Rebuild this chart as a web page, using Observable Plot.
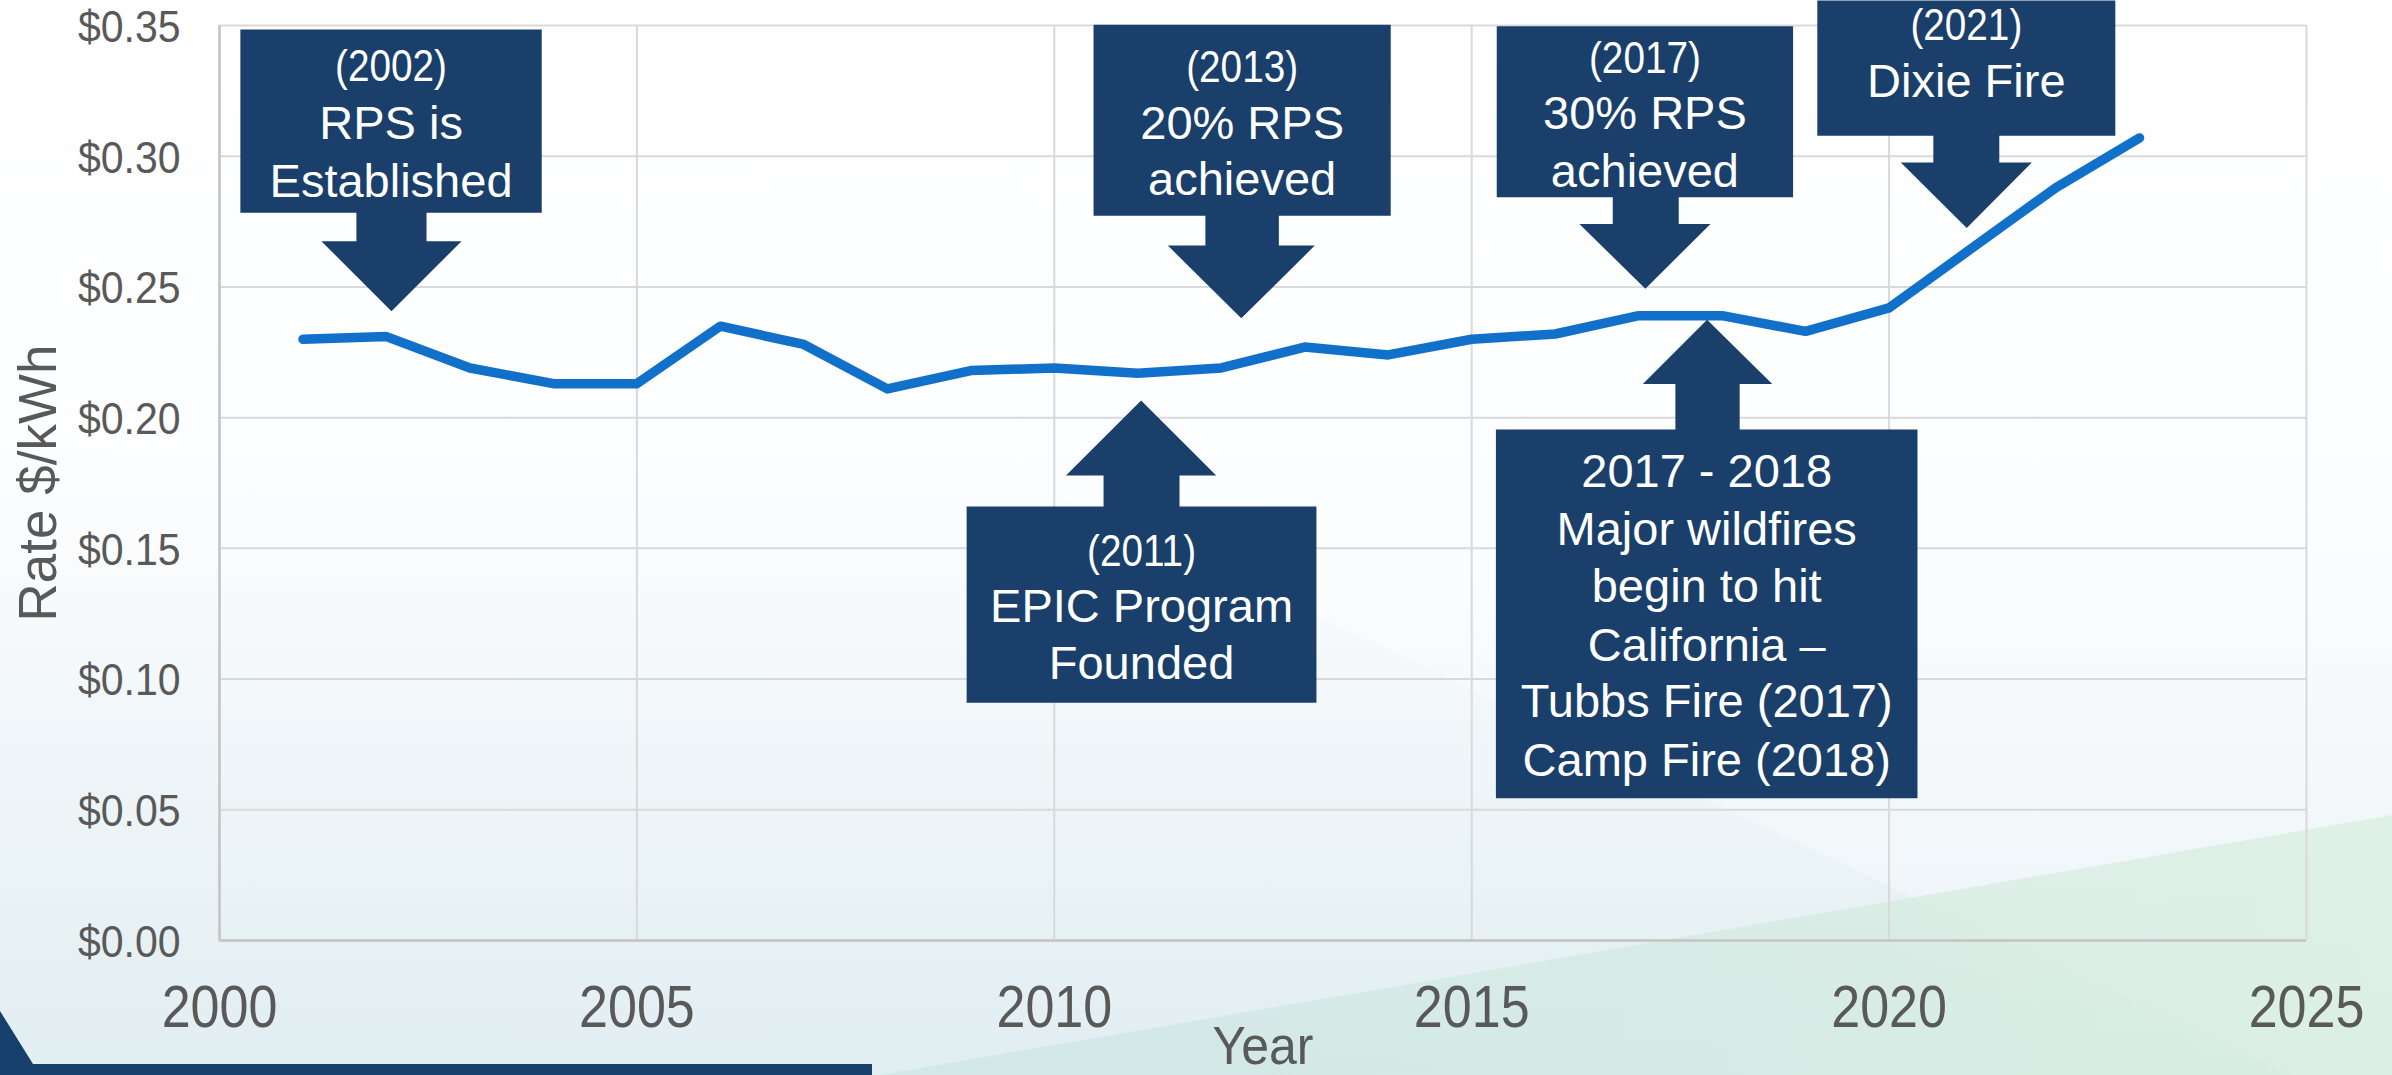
<!DOCTYPE html>
<html><head><meta charset="utf-8">
<script src="https://cdn.jsdelivr.net/npm/d3@7"></script>
<script src="https://cdn.jsdelivr.net/npm/@observablehq/plot@0.6"></script>
<style>
html,body{margin:0;padding:0;background:#fff;}
#wrap{position:relative;width:2392px;height:1075px;overflow:hidden;}
#bg{position:absolute;left:0;top:0;}
#chart{position:absolute;left:0;top:0;}
</style></head><body>
<div id="wrap">
<svg id="bg" width="2392" height="1075">
  <defs>
    <linearGradient id="g0" x1="0" y1="0" x2="0" y2="1">
      <stop offset="0" stop-color="#ffffff"/>
      <stop offset="0.5" stop-color="#fcfdfe"/>
      <stop offset="1" stop-color="#e9f2f6"/>
    </linearGradient>
    <linearGradient id="g1" x1="0" y1="0" x2="0" y2="1">
      <stop offset="0" stop-color="#dcebef" stop-opacity="0"/>
      <stop offset="1" stop-color="#d2e7ea" stop-opacity="0.35"/>
    </linearGradient>
    <linearGradient id="g2" x1="0" y1="0" x2="1" y2="0">
      <stop offset="0" stop-color="#c6e2df" stop-opacity="0.55"/>
      <stop offset="1" stop-color="#d2edd8" stop-opacity="0.6"/>
    </linearGradient>
  </defs>
  <rect width="2392" height="1075" fill="url(#g0)"/>
  <polygon points="0,450 1050,490 2290,1075 0,1075" fill="url(#g1)"/>
  <polygon points="880,1075 2392,815 2392,1075" fill="url(#g2)"/>
  <polygon points="0,1011 33,1064 872,1064 872,1075 0,1075" fill="#173f6c"/>
</svg>
<div id="chart"></div>
</div>
<script>
// ---- data ----
const years = [2001,2002,2003,2004,2005,2006,2007,2008,2009,2010,2011,2012,2013,2014,2015,2016,2017,2018,2019,2020,2021,2022,2023];
const rates = [0.230,0.231,0.219,0.213,0.213,0.235,0.228,0.211,0.218,0.219,0.217,0.219,0.227,0.224,0.230,0.232,0.239,0.239,0.233,0.242,0.265,0.288,0.307];
const xTicks = [2000,2005,2010,2015,2020,2025];
const yTicks = [0,0.05,0.10,0.15,0.20,0.25,0.30,0.35];

// annotation callouts (box + block arrow), in data units (year, $/kWh)
const calloutHeads = ["(2002)","(2013)","(2017)","(2021)","(2011)",null];
const calloutLines = [
  ["RPS is","Established"],
  ["20% RPS","achieved"],
  ["30% RPS","achieved"],
  ["Dixie Fire"],
  ["EPIC Program","Founded"],
  ["2017 - 2018","Major wildfires","begin to hit","California \u2013","Tubbs Fire (2017)","Camp Fire (2018)"]
];
const boxX = [[2000.25,2003.86],[2010.47,2014.03],[2015.30,2018.85],[2019.14,2022.71],[2008.95,2013.14],[2015.29,2020.34]];
const boxFarNear = [[0.3485,0.2784],[0.3503,0.2772],[0.3497,0.2843],[0.3596,0.3078],[0.0909,0.1660],[0.0544,0.1955]];
const shaftX = [[2001.64,2002.48],[2011.81,2012.69],[2016.69,2017.48],[2020.53,2021.32],[2010.59,2011.50],[2017.44,2018.21]];
const headX = [[2001.22,2002.90],[2011.36,2013.12],[2016.29,2017.86],[2020.14,2021.71],[2010.14,2011.94],[2017.05,2018.60]];
const headBase = [0.2675,0.2658,0.2741,0.2976,0.1779,0.2129];
const tipPoint = [[2002.06,0.2407],[2012.24,0.2380],[2017.08,0.2493],[2020.93,0.2725],[2011.04,0.2066],[2017.82,0.2374]];
const headBaseline = [0.3286,0.3283,0.3318,0.3443,0.1434,null];
const lineBaselines = [
  [0.3067,0.2843],
  [0.3067,0.2850],
  [0.3105,0.2884],
  [0.3226],
  [0.1218,0.1001],
  [0.1734,0.1511,0.1294,0.1071,0.0854,0.0631]
];

// ---- build ----
const data = years.map((year, i) => ({year, rate: rates[i]}));
const navy = "#1a3f6b";
const shapes = [];
const headLabels = [];
const bodyLabels = [];
calloutLines.forEach((lines, i) => {
  const [x1, x2] = boxX[i];
  const [far, near] = boxFarNear[i];
  const [sx1, sx2] = shaftX[i];
  const [hx1, hx2] = headX[i];
  const base = headBase[i];
  const [tx, ty] = tipPoint[i];
  const pts = [[x1,far],[x2,far],[x2,near],[sx2,near],[sx2,base],[hx2,base],[tx,ty],[hx1,base],[sx1,base],[sx1,near],[x1,near]];
  pts.forEach(([x, y]) => shapes.push({id: i, x, y}));
  const cx = (x1 + x2) / 2;
  if (calloutHeads[i]) headLabels.push({x: cx, y: headBaseline[i], text: calloutHeads[i]});
  lines.forEach((t, j) => bodyLabels.push({x: cx, y: lineBaselines[i][j], text: t}));
});

const chart = Plot.plot({
  width: 2392, height: 1075,
  marginLeft: 219, marginRight: 86, marginTop: 25, marginBottom: 135,
  style: {background: "transparent", fontFamily: "'Liberation Sans', Arial, sans-serif", color: "#595959", overflow: "visible"},
  x: {domain: [2000, 2025]},
  y: {domain: [0, 0.35]},
  marks: [
    Plot.ruleX(xTicks, {stroke: "#d9d9d9", strokeWidth: 2}),
    Plot.ruleY(yTicks, {stroke: "#d9d9d9", strokeWidth: 2}),
    Plot.ruleX([2000], {stroke: "#c4c4c4", strokeWidth: 2.5}),
    Plot.ruleY([0], {stroke: "#c4c4c4", strokeWidth: 2.5}),
    Plot.axisY(yTicks, {tickSize: 0, tickPadding: 39, fontSize: 45, dy: 2, tickFormat: d => "$" + d.toFixed(2), label: null}),
    Plot.axisX(xTicks, {tickSize: 0, tickPadding: 44, fontSize: 60, tickFormat: d => String(d), label: null}),
    Plot.text(["Year"], {text: d => d, frameAnchor: "bottom", lineAnchor: "middle", dy: 123 - 0.32 * 54, fontSize: 54, fill: "#595959"}),
    Plot.text(["Rate $/kWh"], {text: d => d, frameAnchor: "left", textAnchor: "middle", lineAnchor: "middle", dx: -180, rotate: -90, fontSize: 53, fill: "#595959"}),
    Plot.line(data, {x: "year", y: "rate", stroke: "#1170c9", strokeWidth: 9.5, strokeLinecap: "round", strokeLinejoin: "round"}),
    Plot.line(shapes, {x: "x", y: "y", z: "id", fill: navy, stroke: "none", curve: "linear"}),
    Plot.text(headLabels, {x: "x", y: "y", text: "text", fill: "white", fontSize: 45, dy: -0.32 * 45}),
    Plot.text(bodyLabels, {x: "x", y: "y", text: "text", fill: "white", fontSize: 47, dy: -0.32 * 47})
  ]
});
document.getElementById("chart").appendChild(chart);

// condense glyphs horizontally to match the narrow/tall lettering of the original
const xTickText = new Set(xTicks.map(String));
const yTickText = new Set(yTicks.map(d => "$" + d.toFixed(2)));
const headText = new Set(calloutHeads.filter(Boolean));
chart.querySelectorAll("text").forEach(t => {
  const s = t.textContent;
  let f = null;
  if (xTickText.has(s)) f = 52 / 60;
  else if (yTickText.has(s)) f = 41 / 45;
  else if (s === "Year") f = 50 / 54;
  else if (headText.has(s)) f = 0.86;
  if (f) {
    const w = t.getComputedTextLength();
    t.setAttribute("textLength", (w * f).toFixed(1));
    t.setAttribute("lengthAdjust", "spacingAndGlyphs");
  }
});
</script>
</body></html>
